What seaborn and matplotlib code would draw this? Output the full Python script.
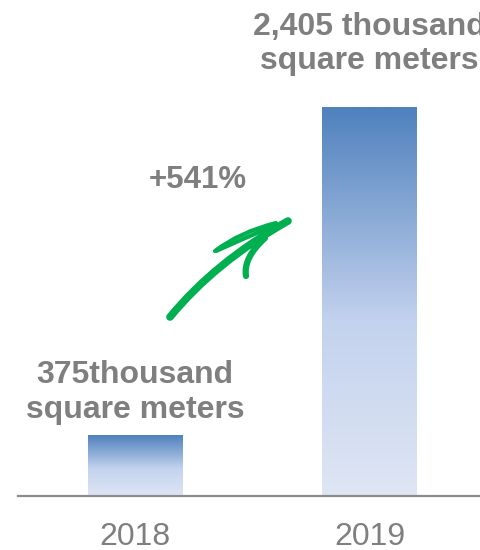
import numpy as np
import pandas as pd
import matplotlib
matplotlib.use("Agg")
import matplotlib.pyplot as plt
from matplotlib.colors import LinearSegmentedColormap
from matplotlib.path import Path
from matplotlib.patches import PathPatch
import seaborn as sns

# Floor area by year (thousand square meters)
years = ["2018", "2019"]
area = [375, 2405]
value_labels = ["375thousand\nsquare meters", "2,405 thousand\nsquare meters"]
growth_label = "+541%"

sns.set_theme(style="white")
plt.rcParams["font.family"] = ["Liberation Sans", "DejaVu Sans"]

W, H = 480, 550
fig = plt.figure(figsize=(W / 100, H / 100), dpi=100)
base_px = 496
ax = fig.add_axes([18 / W, (H - base_px) / H, (W - 18) / W, base_px / H])

df = pd.DataFrame({"year": years, "area": area})
sns.barplot(data=df, x="year", y="area", ax=ax, width=0.405, color="#4f81bd",
            saturation=1)

ax.set_xlim(-0.5, 1.471)
ax.set_ylim(0, base_px * 2405 / 389)

# vertical gradient fill clipped to each bar
cmap = LinearSegmentedColormap.from_list(
    "bar_grad", [(0.0, "#dfe6f4"), (0.45, "#c3d2ee"), (1.0, "#4f81bd")])
grad = np.linspace(0, 1, 256).reshape(-1, 1)
for bar in list(ax.patches):
    x0, y0 = bar.get_x(), bar.get_y()
    w, h = bar.get_width(), bar.get_height()
    im = ax.imshow(grad, cmap=cmap, origin="lower", aspect="auto",
                   extent=[x0, x0 + w, y0, y0 + h], zorder=bar.get_zorder())
    im.set_clip_path(bar)
    bar.set_facecolor("none")
    bar.set_edgecolor("none")

for s in ["top", "right", "left"]:
    ax.spines[s].set_visible(False)
ax.spines["bottom"].set_color("#8c8c8c")
ax.spines["bottom"].set_linewidth(1.6)
ax.set_yticks([])
ax.set_xlabel("")
ax.set_ylabel("")
ax.tick_params(axis="x", length=0, pad=19, labelsize=23, labelcolor="#7f7f7f")

gray = "#7f7f7f"
label_gap_pt = [7.7, 22]
for i, (v, lab) in enumerate(zip(area, value_labels)):
    ax.annotate(lab, (i, v), xytext=(0, label_gap_pt[i]),
                textcoords="offset points", ha="center", va="bottom",
                fontsize=23, fontweight="bold", color=gray,
                linespacing=1.19, annotation_clip=False)

fig.text(198 / W, 1 - 180 / H, growth_label, ha="center", va="center",
         fontsize=22.5, fontweight="bold", color=gray)

# hand-drawn growth arrow in pixel coordinates
green = "#00b050"
def px(pts):
    return [(x / W, 1 - y / H) for x, y in pts]

def stroke(pts, lw):
    codes = [Path.MOVETO] + [Path.CURVE3] * (len(pts) - 1)
    p = PathPatch(Path(px(pts), codes), transform=fig.transFigure,
                  fill=False, edgecolor=green, lw=lw, capstyle="round",
                  joinstyle="round")
    fig.add_artist(p)

stroke([(170, 317), (215, 262), (288, 221)], 5.5)
stroke([(276, 223), (240, 232), (215, 251)], 3.0)
stroke([(216, 251), (245, 238), (273, 226)], 3.0)
stroke([(265, 238), (243, 258), (246, 276)], 4.5)

fig.savefig("out.png", dpi=100)
